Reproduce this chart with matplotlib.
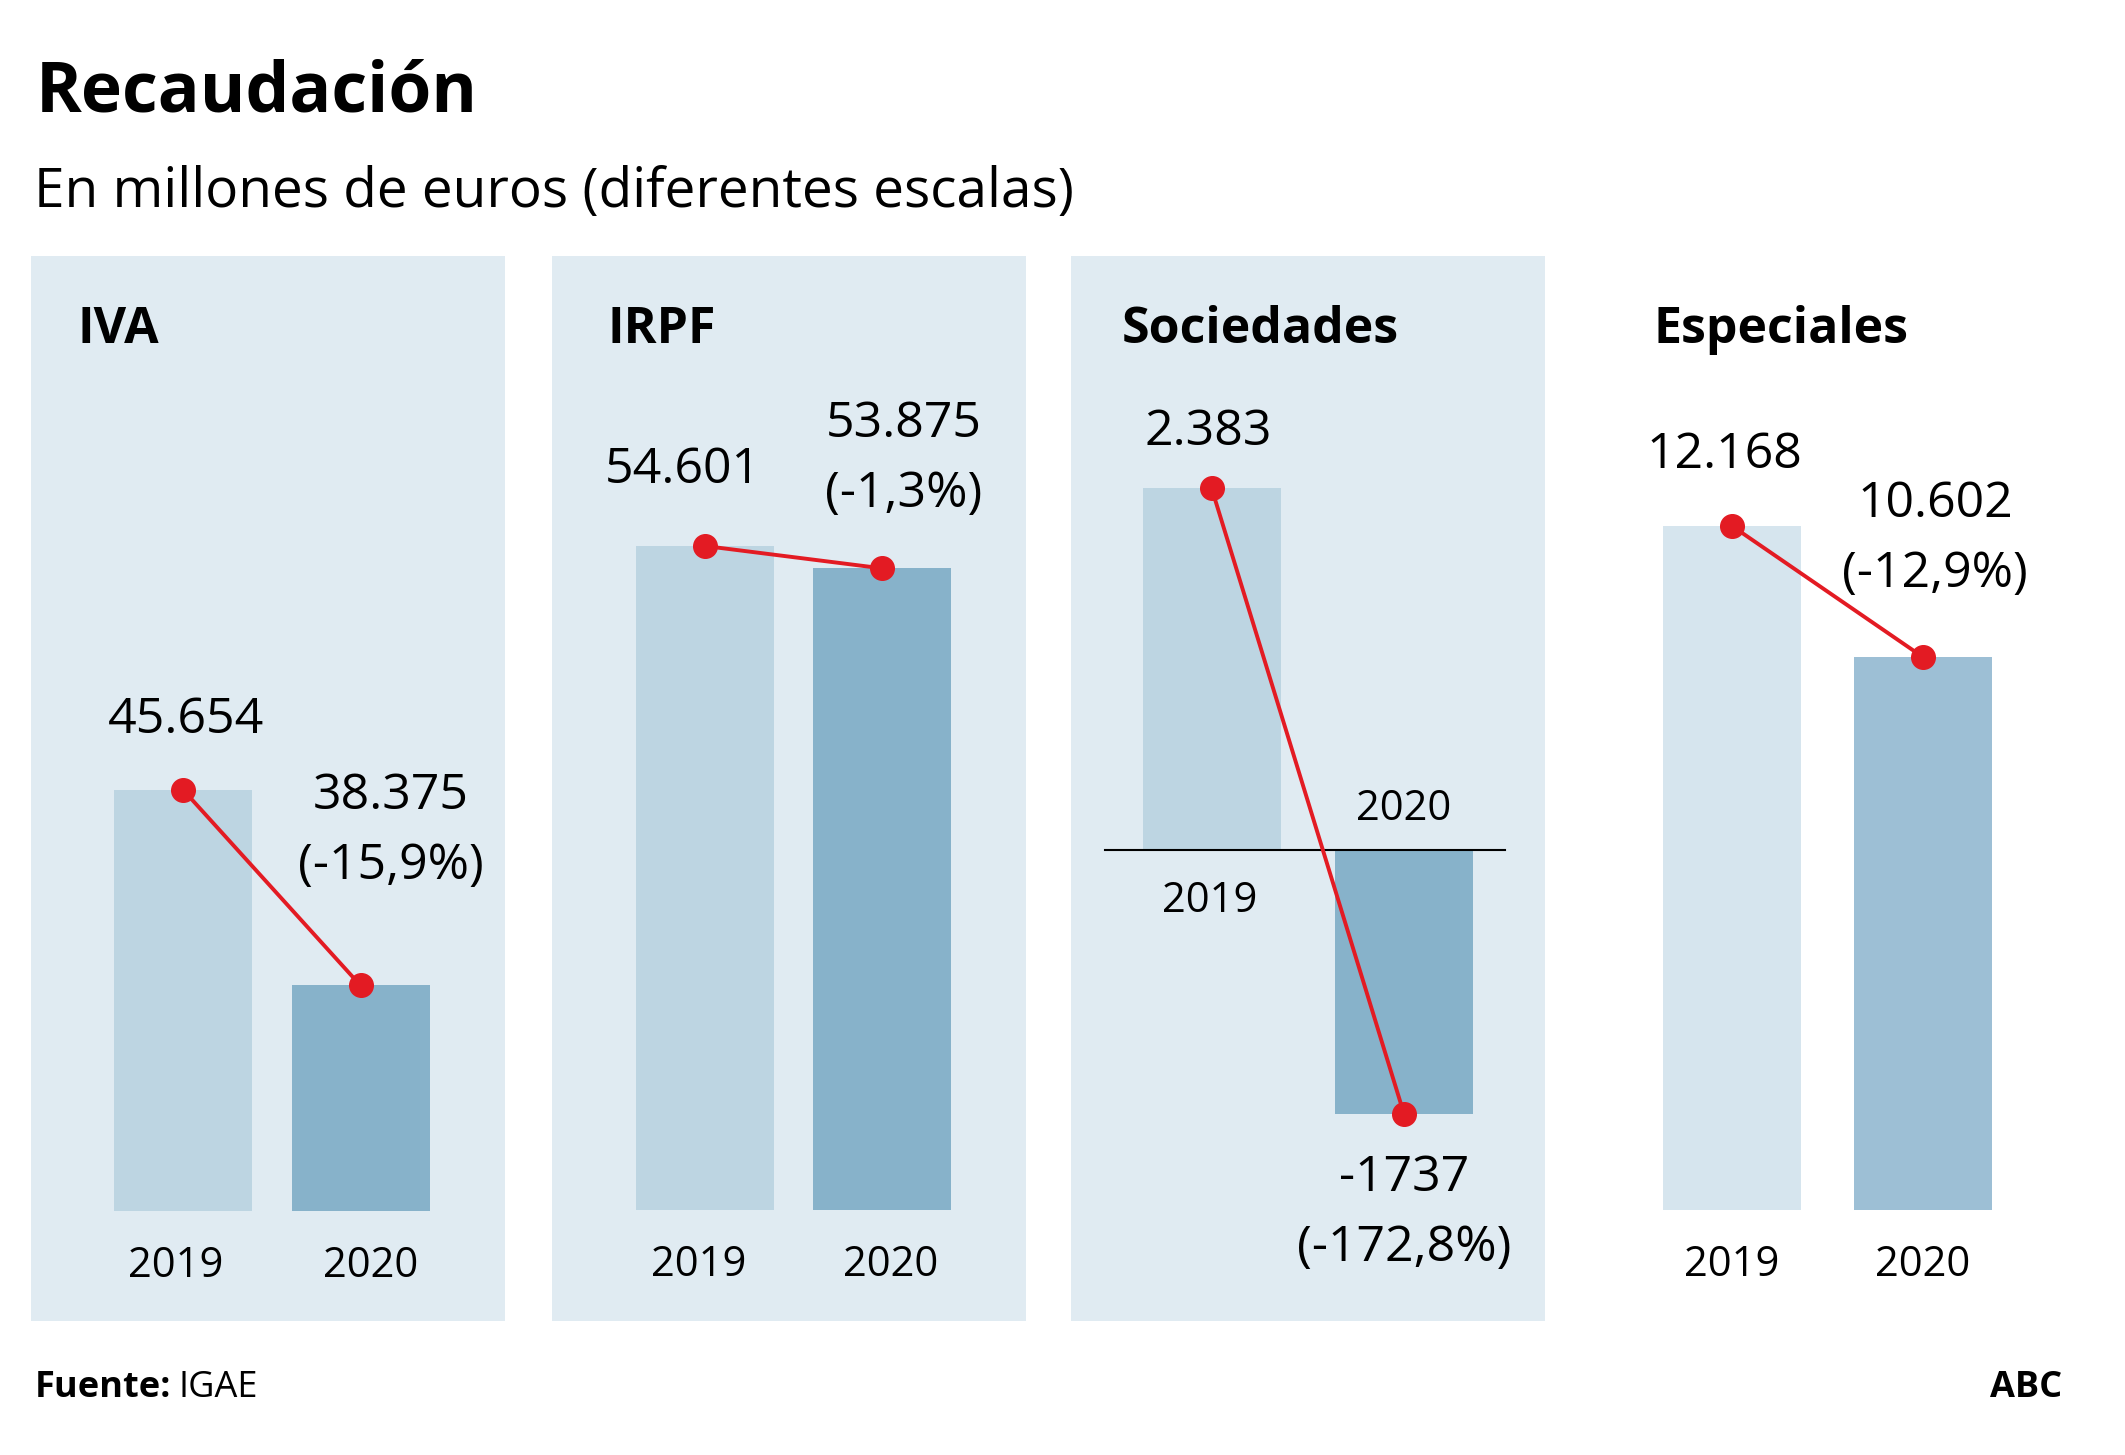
"""
    Recaudación por impuesto, 2019 frente a 2020
    Four small bar panels, each on its own scale.
"""
import matplotlib.pyplot as plt

plt.rcParams['font.family'] = ['Open Sans', 'DejaVu Sans']

W, H = 2125, 1455

# data (millones de euros)
taxes = ['IVA', 'IRPF', 'Sociedades', 'Especiales']
years = ['2019', '2020']
iva = [45654, 38375]
irpf = [54601, 53875]
sociedades = [2383, -1737]
especiales = [12168, 10602]
amount_labels = [['45.654', '38.375'], ['54.601', '53.875'],
                 ['2.383', '-1737'], ['12.168', '10.602']]
change_labels = ['(-15,9%)', '(-1,3%)', '(-172,8%)', '(-12,9%)']

series = [iva, irpf, sociedades, especiales]

# layout in pixels, and the scale of each panel ("diferentes escalas")
panel_left = [31, 552, 1071, 1591]
panel_top, panel_bottom, panel_w = 256, 1321, 474
bar_centers = [(183, 360.5), (705, 882), (1211.5, 1404), (1732, 1923)]
bar_px = 138
bases = [30000, 33000, 0, 4000]
ylims = [(25900, 65500), (29390, 64035), (-3100, 3909), (2674, 15392)]
title_x = [77, 608, 1122, 1653]
off_2019 = [(3, 57), (-22, 63), (-3, 43), (-8, 58)]      # px, label vs dot
off_2020 = [(30, 176), (22, 131), (0, -77), (12, 140)]
year_dx = [(-7, 10), (-6, 9), (-2, 0), (0, 0)]
year_dy = [(-66, -66), (-66, -66), (-62, 30), (-66, -66)]
line_gap = 70

bg = '#e0ebf2'
red = '#e31b23'
bar_colors = [['#bdd5e2', '#87b2ca']] * 3 + [['#d6e5ee', '#9dbfd5']]

PT = 0.72  # px -> points at dpi 100

fig = plt.figure(figsize=(W / 100, H / 100), dpi=100)
fig.patch.set_facecolor('white')

for i, name in enumerate(taxes):
    L = panel_left[i]
    ax = fig.add_axes([L / W, 1 - panel_bottom / H, panel_w / W,
                       (panel_bottom - panel_top) / H])
    c1, c2 = bar_centers[i]
    u = c2 - c1
    ax.set_xlim(-(c1 - L) / u, 1 + (L + panel_w - c2) / u)
    ax.set_ylim(*ylims[i])
    ax.set_facecolor(bg if i < 3 else 'white')
    ax.set_xticks([])
    ax.set_yticks([])
    for s in ax.spines.values():
        s.set_visible(False)

    vals = series[i]
    base = bases[i]
    ax.bar([0, 1], [v - base for v in vals], bottom=base, width=bar_px / u,
           color=bar_colors[i], linewidth=0, zorder=1)
    if base == 0:
        ax.axhline(0, xmin=(1105 - L) / panel_w, xmax=(1505 - L) / panel_w,
                   color='black', lw=1.5, zorder=2)
    ax.plot([0, 1], vals, color=red, lw=2.8, marker='o', ms=17, zorder=3)

    # panel title
    ax.text((title_x[i] - L) / panel_w,
            (panel_bottom - 343) / (panel_bottom - panel_top), name,
            transform=ax.transAxes, fontsize=36, fontweight='bold',
            va='baseline', ha='left')

    # value labels
    dx, dy = off_2019[i]
    ax.annotate(amount_labels[i][0], (0, vals[0]), xytext=(dx * PT, dy * PT),
                textcoords='offset points', ha='center', va='baseline', fontsize=36)
    dx, dy = off_2020[i]
    ax.annotate(amount_labels[i][1], (1, vals[1]), xytext=(dx * PT, dy * PT),
                textcoords='offset points', ha='center', va='baseline', fontsize=36)
    ax.annotate(change_labels[i], (1, vals[1]),
                xytext=(dx * PT, (dy - line_gap) * PT),
                textcoords='offset points', ha='center', va='baseline', fontsize=36)

    # year labels under (or around) the bars
    for j, yr in enumerate(years):
        ax.annotate(yr, (j, base),
                    xytext=(year_dx[i][j] * PT, year_dy[i][j] * PT),
                    textcoords='offset points', ha='center', va='baseline',
                    fontsize=30)

fig.text(36 / W, 1 - 112 / H, 'Recaudación', fontsize=50, fontweight='bold',
         va='baseline')
fig.text(34 / W, 1 - 207 / H, 'En millones de euros (diferentes escalas)',
         fontsize=39.5, va='baseline')

fig.text(35 / W, 1 - 1397 / H, 'Fuente:', fontsize=26, fontweight='bold',
         va='baseline')
fig.text(178 / W, 1 - 1397 / H, 'IGAE', fontsize=26, va='baseline')
fig.text(2062 / W, 1 - 1397 / H, 'ABC', fontsize=26, fontweight='bold',
         va='baseline', ha='right')

fig.savefig('out.png', dpi=100)
